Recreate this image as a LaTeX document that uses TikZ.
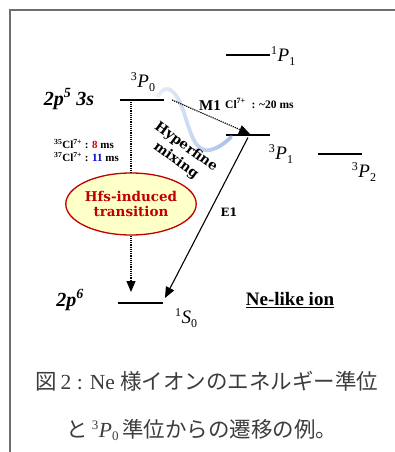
\documentclass[tikz,border=0pt]{standalone}
\usepackage{fontspec}
\setmainfont{Liberation Serif}
\newfontfamily\jpfont{Noto Sans CJK JP}
\newfontfamily\slabfont{DejaVu Serif}
\usetikzlibrary{arrows.meta,fadings,shapes.geometric}
\definecolor{frameg}{HTML}{6E6E6E}
\definecolor{capg}{HTML}{3C3C3C}
\definecolor{hfsred}{HTML}{C00000}
\definecolor{hfsfill}{HTML}{FFFFC8}
\definecolor{mixblue}{HTML}{A6BEE8}
\definecolor{numred}{HTML}{D00000}
\definecolor{numblue}{HTML}{0000D0}
\newcommand\termsym[4]{{\fontsize{#4}{#4}\selectfont\raisebox{0.62em}{#1}}\kern0.5pt\textit{#2}{\fontsize{#4}{#4}\selectfont\raisebox{-0.3em}{#3}}}
\tikzfading[name=mixfade, left color=transparent!75, right color=transparent!0]
\begin{document}
\begin{tikzpicture}[x=1pt,y=-1pt,
  lvl/.style={fill=black, inner sep=0pt, minimum height=2.6pt, minimum width=44pt},
  term/.style={inner sep=0pt, font=\fontsize{19}{19}\selectfont},
  conf/.style={inner sep=0pt, font=\fontsize{20}{20}\selectfont\bfseries\itshape},
  dots/.style={densely dotted, line width=1.2pt},
  tip/.style={-{Triangle[length=11pt,width=9pt]}},
  small/.style={inner sep=0pt, font=\fontsize{11}{13}\selectfont\bfseries, align=left},
  slab/.style={font=\slabfont\bfseries\fontsize{13.5}{17}\selectfont, align=center, inner sep=0pt},
  caption/.style={inner sep=0pt, text=capg, font=\fontsize{21.5}{21.5}\selectfont}]
\useasboundingbox (0,0) rectangle (395,452);
\draw[frameg, line width=1.4pt] (395,10) -- (10,10) -- (10,452);
% levels
\node[lvl] (P1s) at (248,55) {};
\node[lvl] (P0) at (142,100) {};
\node[lvl] (P1) at (248,135) {};
\node[lvl] (P2) at (340,154) {};
\node[lvl, minimum width=45pt] (S0) at (140.5,303) {};
% level labels
\node[term, anchor=west] (lP1s) at (271,56) {\termsym{1}{P}{1}{12}};
\node[term] (lP0) at (143,82) {\termsym{3}{P}{0}{12}};
\node[term] (lP1) at (281,154) {\termsym{3}{P}{1}{12}};
\node[term] (lP2) at (364,172) {\termsym{3}{P}{2}{12}};
\node[term] (lS0) at (186,318) {\termsym{1}{S}{0}{12}};
\node[conf] (c1) at (69,99) {2\textit{p}\textsuperscript{5} 3\textit{s}};
\node[conf] (c2) at (70,300) {2\textit{p}\textsuperscript{6}};
% blue hyperfine mixing curve
\coordinate (mixa) at (158,96);
\coordinate (mixb) at (231,137);
\draw[mixblue, line width=3.8pt, line cap=round, path fading=mixfade]
  (mixa) .. controls (166,82) and (176,90) .. (183,110)
  .. controls (191,134) and (195,153) .. (210,150)
  .. controls (219,148) and (226,142) .. (mixb);
% hyperfine mixing label
\node[slab, rotate=-36] (mix) at (181,154) {Hyperfine\\mixing};
% M1 transition
\coordinate (m1tip) at (250,134);
\draw[dots, tip] ([xshift=8pt]P0.east) -- (m1tip);
\node[inner sep=0pt, anchor=base west, font=\fontsize{15}{15}\selectfont\bfseries] (m1) at (199,110) {M1};
\node[inner sep=0pt, anchor=base west, font=\fontsize{11.5}{11.5}\selectfont\bfseries] (m1t) at (225,108) {Cl\textsuperscript{7+}\ \ : \textasciitilde20 ms};
% Hfs-induced transition
\node[ellipse, draw=hfsred, fill=hfsfill, line width=1.3pt, minimum width=123pt, minimum height=62pt, inner sep=0pt, text=hfsred, slab] (hfs) at (131,204) {Hfs-induced\\[-2pt]transition};
\draw[dots] (P0.south -| hfs.north) -- (hfs.north);
\draw[dots, tip, shorten >=9.5pt] (hfs.south) -- (S0.north -| hfs.south);
\node[small, anchor=east] (life) at (119,151) {\textsuperscript{35}Cl\textsuperscript{7+} : \textcolor{numred}{8} ms\\\textsuperscript{37}Cl\textsuperscript{7+} : \textcolor{numblue}{11} ms};
% E1 transition
\coordinate (e1tip) at (165,298);
\draw[line width=1.1pt, tip] ([yshift=-1pt]P1.south) -- (e1tip);
\node[inner sep=0pt, font=\slabfont\bfseries\fontsize{11.5}{12}\selectfont] (e1) at (229,212) {E1};
% Ne-like ion
\node[inner sep=0pt, font=\fontsize{19}{19}\selectfont\bfseries] (ne) at (290,300) {\underline{Ne-like ion}};
% caption
\node[caption] (cap1) at (207,381) {{\jpfont 図}\,2 : Ne {\jpfont 様イオンのエネルギー準位}};
\node[caption] (cap2) at (202,430) {{\jpfont と}\,\termsym{3}{P}{0}{13}\,{\jpfont 準位からの遷移の例。}};
\end{tikzpicture}
\end{document}
